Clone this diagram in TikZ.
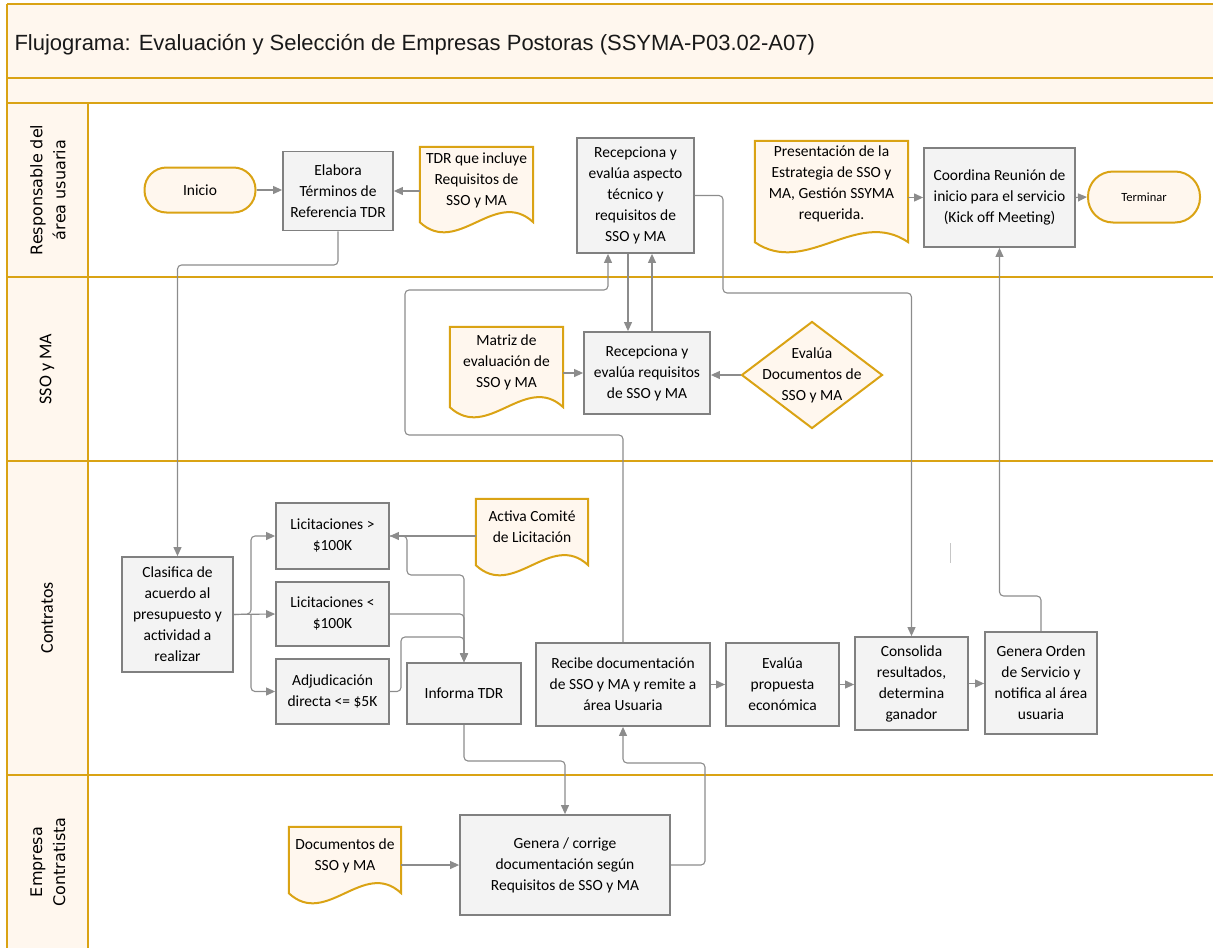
\documentclass[tikz,border=0pt]{standalone}
\usepackage{fontspec}
\setmainfont{Carlito}
\newfontfamily\titlefont{Liberation Sans}
\newfontfamily\lanefont{DejaVu Sans}
\usetikzlibrary{arrows.meta,calc,shapes.geometric,backgrounds}

\definecolor{lanegold}{RGB}{218,163,20}
\definecolor{cream}{RGB}{255,247,238}
\definecolor{boxgray}{RGB}{128,128,128}
\definecolor{boxfill}{RGB}{243,243,243}
\definecolor{linkgray}{RGB}{140,140,140}

\newcommand{\boxfont}{\fontsize{15.5}{21}\selectfont}

%% document shape below a named node, #2 = drop of the wave baseline
\newcommand{\docshape}[2]{%
	\filldraw[draw=lanegold,line width=2pt,fill=cream]
		($(#1.south west)+(0,-#2)$) -- (#1.north west) -- (#1.north east) -- ($(#1.south east)+(0,-#2)$)
		.. controls ($(#1.south west)!0.667!(#1.south east)+(0,35-#2)$) and ($(#1.south west)!0.333!(#1.south east)+(0,-35-#2)$) .. ($(#1.south west)+(0,-#2)$) -- cycle;
}

\begin{document}
\begin{tikzpicture}[x=1pt,y=1pt,>={Triangle[length=9pt,width=8pt]},
	task/.style={draw=boxgray,line width=1.8pt,fill=boxfill,align=center,inner sep=2pt,font=\boxfont},
	term/.style={draw=lanegold,line width=2pt,fill=cream,align=center,font=\boxfont},
	doc/.style={align=center,inner sep=2pt,font=\boxfont},
	dec/.style={diamond,draw=lanegold,line width=2pt,fill=cream,align=center,inner sep=-18pt,font=\boxfont},
	link/.style={draw=linkgray,line width=1.1pt,rounded corners=4pt},
	lane/.style={draw=lanegold,line width=2.5pt},
	lanename/.style={rotate=90,align=center}]
	\useasboundingbox (0,0) rectangle (1213,-948);

	%% Bands and lane labels
	\fill [cream] (7,-4) rectangle (1213,-103);
	\fill [cream] (7,-103) rectangle (88,-948);
	\foreach \y in {4,78,103,277,461,775} {
		\draw [lane] (7,-\y) -- (1213,-\y);
	}
	\draw [lane] (7,-4) -- (7,-948);
	\draw [lane] (88,-103) -- (88,-948);

	\node [anchor=west,text=black!90,font=\titlefont\fontsize{22}{26}\selectfont] (title) at (11,-45)
		{Flujograma: Evaluación y Selección de Empresas Postoras (SSYMA-P03.02-A07)};
	\node [lanename,font=\lanefont\fontsize{16}{23}\selectfont] (lresp) at (48,-190) {Responsable del\\área usuaria};
	\node [lanename,font=\fontsize{18}{21}\selectfont] (lsso) at (47,-369) {SSO y MA};
	\node [lanename,font=\fontsize{18}{21}\selectfont] (lcon) at (47,-618) {Contratos};
	\node [lanename,font=\lanefont\fontsize{16}{23}\selectfont] (lemp) at (48,-862) {Empresa\\Contratista};

	%% Responsable del area usuaria
	\node [term,minimum width=111pt,minimum height=45pt,rounded corners=22pt] (ini) at (200,-190) {Inicio};
	\node [task,minimum width=110pt,minimum height=79pt] (ela) at (338,-191) {Elabora\\Términos de\\Referencia TDR};
	\node [doc,minimum width=113pt,minimum height=66pt] (tdr) at (476.5,-180) {TDR que incluye\\Requisitos de\\SSO y MA};
	\node [task,minimum width=117pt,minimum height=115pt] (rtec) at (635.5,-195.5) {Recepciona y\\evalúa aspecto\\técnico y\\requisitos de\\SSO y MA};
	\node [doc,minimum width=153pt,minimum height=85pt] (pres) at (831.5,-183.5) {Presentación de la\\Estrategia de SSO y\\MA, Gestión SSYMA\\requerida.};
	\node [task,minimum width=151pt,minimum height=99pt] (coord) at (999.5,-197.5) {Coordina Reunión de\\inicio para el servicio\\(Kick off Meeting)};
	\node [term,minimum width=112pt,minimum height=51pt,rounded corners=25pt,font=\fontsize{12.5}{15}\selectfont] (fin) at (1144,-197) {Terminar};

	%% SSO y MA
	\node [doc,minimum width=113pt,minimum height=70pt] (mat) at (506.5,-362) {Matriz de\\evaluación de\\SSO y MA};
	\node [task,minimum width=126pt,minimum height=82pt] (rreq) at (647,-373) {Recepciona y\\evalúa requisitos\\de SSO y MA};
	\node [dec,minimum width=141pt,minimum height=107pt] (evd) at (812,-375) {Evalúa\\Documentos de\\SSO y MA};

	%% Contratos
	\node [task,minimum width=111pt,minimum height=115pt] (clas) at (177.5,-614.5) {Clasifica de\\acuerdo al\\presupuesto y\\actividad a\\realizar};
	\node [task,minimum width=113pt,minimum height=66pt] (lgt) at (332.5,-536) {Licitaciones >\\\$100K};
	\node [task,minimum width=113pt,minimum height=64pt] (llt) at (332.5,-614) {Licitaciones <\\\$100K};
	\node [task,minimum width=113pt,minimum height=65pt] (adj) at (332.5,-691.5) {Adjudicación\\directa <= \$5K};
	\node [doc,minimum width=112pt,minimum height=56pt] (act) at (532,-527) {Activa Comité\\de Licitación};
	\node [task,minimum width=114pt,minimum height=61pt] (inf) at (464,-693.5) {Informa TDR};
	\node [task,minimum width=174pt,minimum height=83pt] (rec) at (623,-684.5) {Recibe documentación\\de SSO y MA y remite a\\área Usuaria};
	\node [task,minimum width=113pt,minimum height=83pt] (eva) at (782.5,-684.5) {Evalúa\\propuesta\\económica};
	\node [task,minimum width=113pt,minimum height=93pt] (cons) at (911.5,-683.5) {Consolida\\resultados,\\determina\\ganador};
	\node [task,minimum width=112pt,minimum height=102pt] (gen) at (1041,-683) {Genera Orden\\de Servicio y\\notifica al área\\usuaria};

	%% Empresa Contratista
	\node [doc,minimum width=112pt,minimum height=58pt] (docs) at (345,-856) {Documentos de\\SSO y MA};
	\node [task,minimum width=210pt,minimum height=100pt] (gco) at (565,-865) {Genera / corrige\\documentación según\\Requisitos de SSO y MA};

	%% Document outlines
	\begin{scope}[on background layer]
		\foreach \d/\drop in {tdr/9,pres/16,mat/10,act/10,docs/8} {
			\docshape{\d}{\drop}
		}
	\end{scope}

	%% Connectors
	\draw [link,->] (ini.east) -- (ini.east -| ela.west);
	\draw [link,->] (tdr.west |- ela.east) -- (ela.east);
	\draw [link,->] (ela.south) -- (ela.south |- 0,-265) -| (clas.north);
	\coordinate (split) at (251,-614);
	\draw [link,->] (clas.east) -- (split) |- (lgt.west);
	\draw [link,->] (clas.east) -- (llt.west);
	\draw [link,->] (split) |- (adj.west);
	\draw [link,->] (act.west |- lgt.east) -- (lgt.east);
	\draw [link,->] (lgt.east) -- (407,-536) |- (inf.north |- 0,-575) -- (inf.north);
	\draw [link,->] (llt.east) -| (inf.north);
	\draw [link,->] (adj.east) -- (401,-691.5) |- (inf.north |- 0,-637) -- (inf.north);
	\draw [link,->] (inf.south) -- (inf.south |- 0,-761) -| (gco.north);
	\draw [link,->] (docs.east |- gco.west) -- (gco.west);
	\draw [link,->] (gco.east) -- (705,-865) |- (rec.south |- 0,-763) -- (rec.south);
	\draw [link,->] (rec.north) |- (405,-435) |- (608,-290) -- (rtec.south -| 608,0);
	\draw [link,->] (rtec.south -| 628,0) -- (rreq.north -| 628,0);
	\draw [link,->] (rreq.north -| 652,0) -- (rtec.south -| 652,0);
	\draw [link,->] (mat.east |- rreq.west) -- (rreq.west);
	\draw [link,->] (evd.west) -- (evd.west -| rreq.east);
	\draw [link,->] (rtec.east) -| (723,-293) -| (cons.north);
	\draw [link,->] (rec.east) -- (rec.east -| eva.west);
	\draw [link,->] (eva.east) -- (eva.east -| cons.west);
	\draw [link,->] (cons.east) -- (cons.east -| gen.west);
	\draw [link,->] (gen.north) -- (gen.north |- 0,-596) -| (coord.south);
	\draw [link,->] (pres.east |- coord.west) -- (coord.west);
	\draw [link,->] (coord.east) -- (fin.west);
	\draw [linkgray!50,line width=0.8pt] (950,-543) -- (950,-563);
\end{tikzpicture}
\end{document}
